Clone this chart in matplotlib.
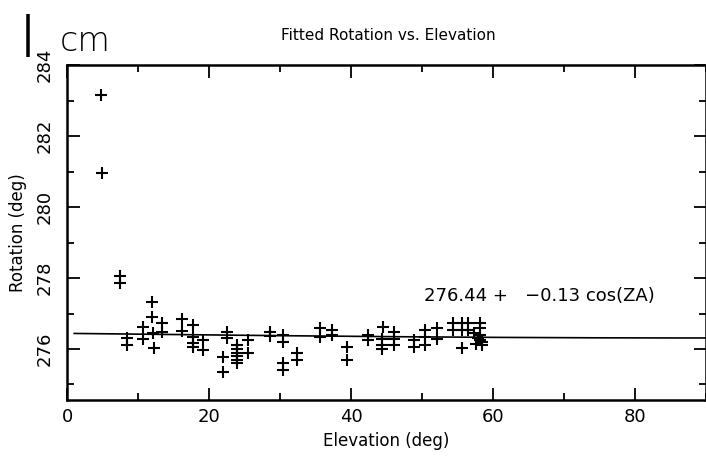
import numpy as np
import matplotlib
matplotlib.use("Agg")
import matplotlib.pyplot as plt
from matplotlib.ticker import MultipleLocator

elevation = [
    4.8, 4.9, 7.5, 7.5, 8.5, 8.5, 10.7, 10.7,
    12.0, 12.0, 12.1, 12.2, 13.4, 13.4,
    16.2, 16.2, 17.7, 17.7, 17.7, 17.7, 19.2, 19.2,
    22.0, 22.0, 22.5, 22.5,
    23.9, 23.9, 23.9, 23.9, 23.9, 23.9, 25.5, 25.5,
    28.6, 28.6, 30.4, 30.4, 30.4, 30.4, 32.4, 32.4,
    35.6, 35.6, 37.3, 37.3, 39.4, 39.4, 42.4, 42.4,
    44.5, 44.3, 44.3, 44.3, 46.1, 46.1, 46.1, 48.9, 48.9,
    50.4, 50.4, 50.4, 52.1, 52.1,
    54.4, 54.4, 55.6, 55.6, 55.6, 56.5, 56.5,
    57.3, 58.1, 58.1, 58.1, 58.1, 58.4, 58.4, 57.9, 57.6,
]
rotation = [
    283.15, 280.96, 278.06, 277.86, 276.31, 276.11, 276.62, 276.28,
    277.32, 276.90, 276.45, 276.03, 276.73, 276.48,
    276.85, 276.51, 276.68, 276.34, 276.17, 276.06, 276.25, 275.97,
    275.77, 275.35, 276.48, 276.31,
    276.11, 276.00, 275.90, 275.80, 275.70, 275.60, 276.25, 275.89,
    276.48, 276.37, 276.39, 276.20, 275.60, 275.40, 275.89, 275.69,
    276.59, 276.34, 276.54, 276.39, 276.06, 275.69, 276.39, 276.25,
    276.62, 276.28, 276.11, 276.00, 276.48, 276.28, 276.11, 276.25, 276.06,
    276.54, 276.34, 276.11, 276.59, 276.28,
    276.73, 276.54, 276.73, 276.54, 276.03, 276.73, 276.54,
    276.45, 276.73, 276.59, 276.39, 276.25, 276.10, 276.20, 276.30, 276.15,
]

# fit: rot = a + b cos(ZA), ZA = 90 - elevation
fit_a = 276.44
fit_b = -0.13
fit_label = "276.44 +   \u22120.13 cos(ZA)"

fig = plt.figure(figsize=(7.06, 4.69), dpi=100)
ax = fig.add_axes([0.095, 0.147, 0.905, 0.714])

ax.plot(elevation, rotation, linestyle="none", marker="+", markersize=8,
        markeredgewidth=1.5, color="black")

elev_line = np.linspace(1, 90, 200)
ax.plot(elev_line, fit_a + fit_b * np.cos(np.radians(90 - elev_line)),
        color="black", linewidth=1.2)

ax.set_xlim(0, 90)
ax.set_ylim(274.56, 284)
ax.xaxis.set_major_locator(MultipleLocator(20))
ax.xaxis.set_minor_locator(MultipleLocator(10))
ax.yaxis.set_major_locator(MultipleLocator(2))
ax.yaxis.set_minor_locator(MultipleLocator(1))
ax.tick_params(which="both", direction="in", top=True, right=True,
               width=1.3, labelsize=13)
ax.tick_params(which="major", length=9)
ax.tick_params(which="minor", length=5)
ax.tick_params(axis="x", pad=6)
ax.tick_params(axis="y", pad=10)
for lab in ax.get_yticklabels():
    lab.set_rotation(90)
    lab.set_va("center")
for side in ax.spines.values():
    side.set_linewidth(1.8)

ax.text(50.3, 277.49, fit_label, fontsize=13, va="center", ha="left")

ax.set_xlabel("Elevation (deg)", fontsize=12, labelpad=4)
ax.set_ylabel("Rotation (deg)", fontsize=12, labelpad=6)
fig.text(0.55, 0.925, "Fitted Rotation vs. Elevation", fontsize=11,
         ha="center", va="center")

# handwritten note in the corner
fig.text(0.04, 0.925, "|", fontsize=30, ha="center", va="center")
fig.text(0.12, 0.912, "cm", fontsize=24, ha="center", va="center",
         family="DejaVu Sans", fontweight="light")

fig.savefig("out.png", dpi=100)
